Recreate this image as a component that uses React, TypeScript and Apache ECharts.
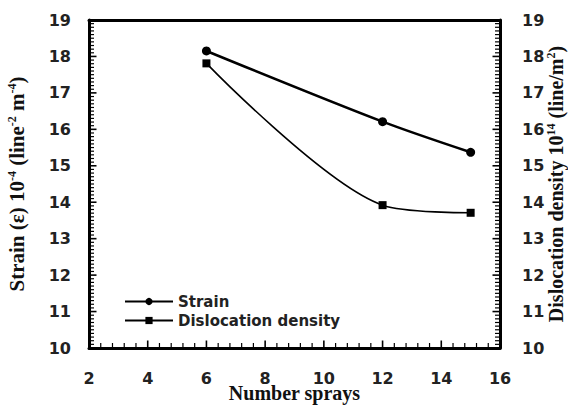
import React, { useEffect, useRef } from "react";
import * as echarts from "echarts";

const sprays = [6, 12, 15];
const strain = [18.15, 16.21, 15.37];
const dislocation = [17.81, 13.92, 13.71];
const seriesNames = ["Strain", "Dislocation density"];
const xMin = 2, xMax = 16, xStep = 2, xMinorParts = 5;
const yMin = 10, yMax = 19, yStep = 1, yMinorParts = 10;

export default function App() {
  const ref = useRef<HTMLDivElement>(null);
  useEffect(() => {
    const chart = echarts.init(ref.current!, null, { renderer: "svg" });
    const tickFont = { fontFamily: "DejaVu Sans", fontWeight: "bold" as const, fontSize: 16, color: "#222" };
    const nameFont = { fontFamily: "Liberation Serif", fontWeight: "bold" as const, fontSize: 21, color: "#111" };
    const supStyle = { fontFamily: "Liberation Serif", fontWeight: "bold" as const, fontSize: 12, color: "#111", padding: [0, 0, 10, 0] };
    const yCommon = {
      type: "value" as const,
      min: yMin,
      max: yMax,
      interval: yStep,
      nameLocation: "middle" as const,
      nameRotate: 90,
      nameMoveOverlap: false,
      axisLine: { show: true, onZero: false, lineStyle: { color: "#000", width: 3 } },
      axisTick: { show: false },
      splitLine: { show: false },
    };

    const renderTicks = (params: any, api: any) => {
      const children: any[] = [];
      const seg = (x1: number, y1: number, x2: number, y2: number, w: number) =>
        children.push({ type: "line", shape: { x1, y1, x2, y2 }, style: { stroke: "#000", lineWidth: w, fill: null } });
      const ySub = yStep / yMinorParts;
      const nY = Math.round((yMax - yMin) / ySub);
      for (let i = 1; i < nY; i++) {
        const v = yMin + i * ySub;
        const major = i % yMinorParts === 0;
        const len = major ? 7.5 : 5;
        const w = major ? 1.6 : 1.2;
        const pl = api.coord([xMin, v]);
        const pr = api.coord([xMax, v]);
        seg(pl[0], pl[1], pl[0] + len, pl[1], w);
        seg(pr[0], pr[1], pr[0] - len, pr[1], w);
      }
      const xSub = xStep / xMinorParts;
      const nX = Math.round((xMax - xMin) / xSub);
      for (let i = 1; i < nX; i++) {
        const v = xMin + i * xSub;
        const major = i % xMinorParts === 0;
        const len = major ? 7.5 : 5;
        const w = major ? 1.6 : 1.2;
        const pb = api.coord([v, yMin]);
        seg(pb[0], pb[1], pb[0], pb[1] - len, w);
      }
      return { type: "group", children };
    };

    chart.setOption({
      animation: false,
      backgroundColor: "#fff",
      grid: { left: 89, right: 68, top: 20, bottom: 57, outerBoundsMode: "none", containLabel: false },
      legend: {
        orient: "vertical",
        left: 119,
        top: 289,
        itemWidth: 48,
        itemHeight: 9,
        itemGap: 4,
        data: seriesNames,
        textStyle: { fontFamily: "DejaVu Sans", fontWeight: "bold", fontSize: 15, color: "#222" },
      },
      xAxis: [
        {
          type: "value",
          min: xMin,
          max: xMax,
          interval: xStep,
          position: "bottom",
          name: "Number sprays",
          nameLocation: "middle",
          nameGap: 35,
          nameMoveOverlap: false,
          nameTextStyle: { ...nameFont, fontSize: 20 },
          axisLine: { show: true, onZero: false, lineStyle: { color: "#000", width: 3 } },
          axisTick: { show: false },
          axisLabel: { ...tickFont, margin: 22 },
          splitLine: { show: false },
        },
        {
          type: "value",
          min: xMin,
          max: xMax,
          interval: xStep,
          position: "top",
          axisLine: { show: true, onZero: false, lineStyle: { color: "#000", width: 3 } },
          axisTick: { show: false },
          axisLabel: { show: false },
          splitLine: { show: false },
        },
      ],
      yAxis: [
        {
          ...yCommon,
          position: "left",
          name: "Strain (ε) 10{sup|-4} (line{sup|-2} m{sup|-4})",
          nameGap: 61,
          nameTextStyle: { ...nameFont, rich: { sup: supStyle } },
          axisLabel: { ...tickFont, margin: 18 },
        },
        {
          ...yCommon,
          position: "right",
          name: "Dislocation density 10{sup|14} (line/m{sup|2})",
          nameGap: 45,
          nameTextStyle: { ...nameFont, fontSize: 20, rich: { sup: supStyle } },
          axisLabel: { ...tickFont, margin: 22 },
        },
      ],
      series: [
        {
          name: "ticks",
          type: "custom",
          coordinateSystem: "cartesian2d",
          xAxisIndex: 0,
          yAxisIndex: 0,
          data: [[xMin, yMin]],
          renderItem: renderTicks,
          silent: true,
          clip: false,
          z: 10,
        },
        {
          name: seriesNames[0],
          type: "line",
          data: sprays.map((x, i) => [x, strain[i]]),
          smooth: 0.3,
          symbol: "circle",
          symbolSize: 9,
          lineStyle: { color: "#000", width: 2.5 },
          itemStyle: { color: "#000" },
        },
        {
          name: seriesNames[1],
          type: "line",
          data: sprays.map((x, i) => [x, dislocation[i]]),
          smooth: 0.3,
          symbol: "rect",
          symbolSize: 8,
          lineStyle: { color: "#000", width: 1.6 },
          itemStyle: { color: "#000" },
        },
      ],
    });
    return () => chart.dispose();
  }, []);
  return <div ref={ref} style={{ position: "absolute", left: 0, top: 0, width: 568, height: 405 }} />;
}
